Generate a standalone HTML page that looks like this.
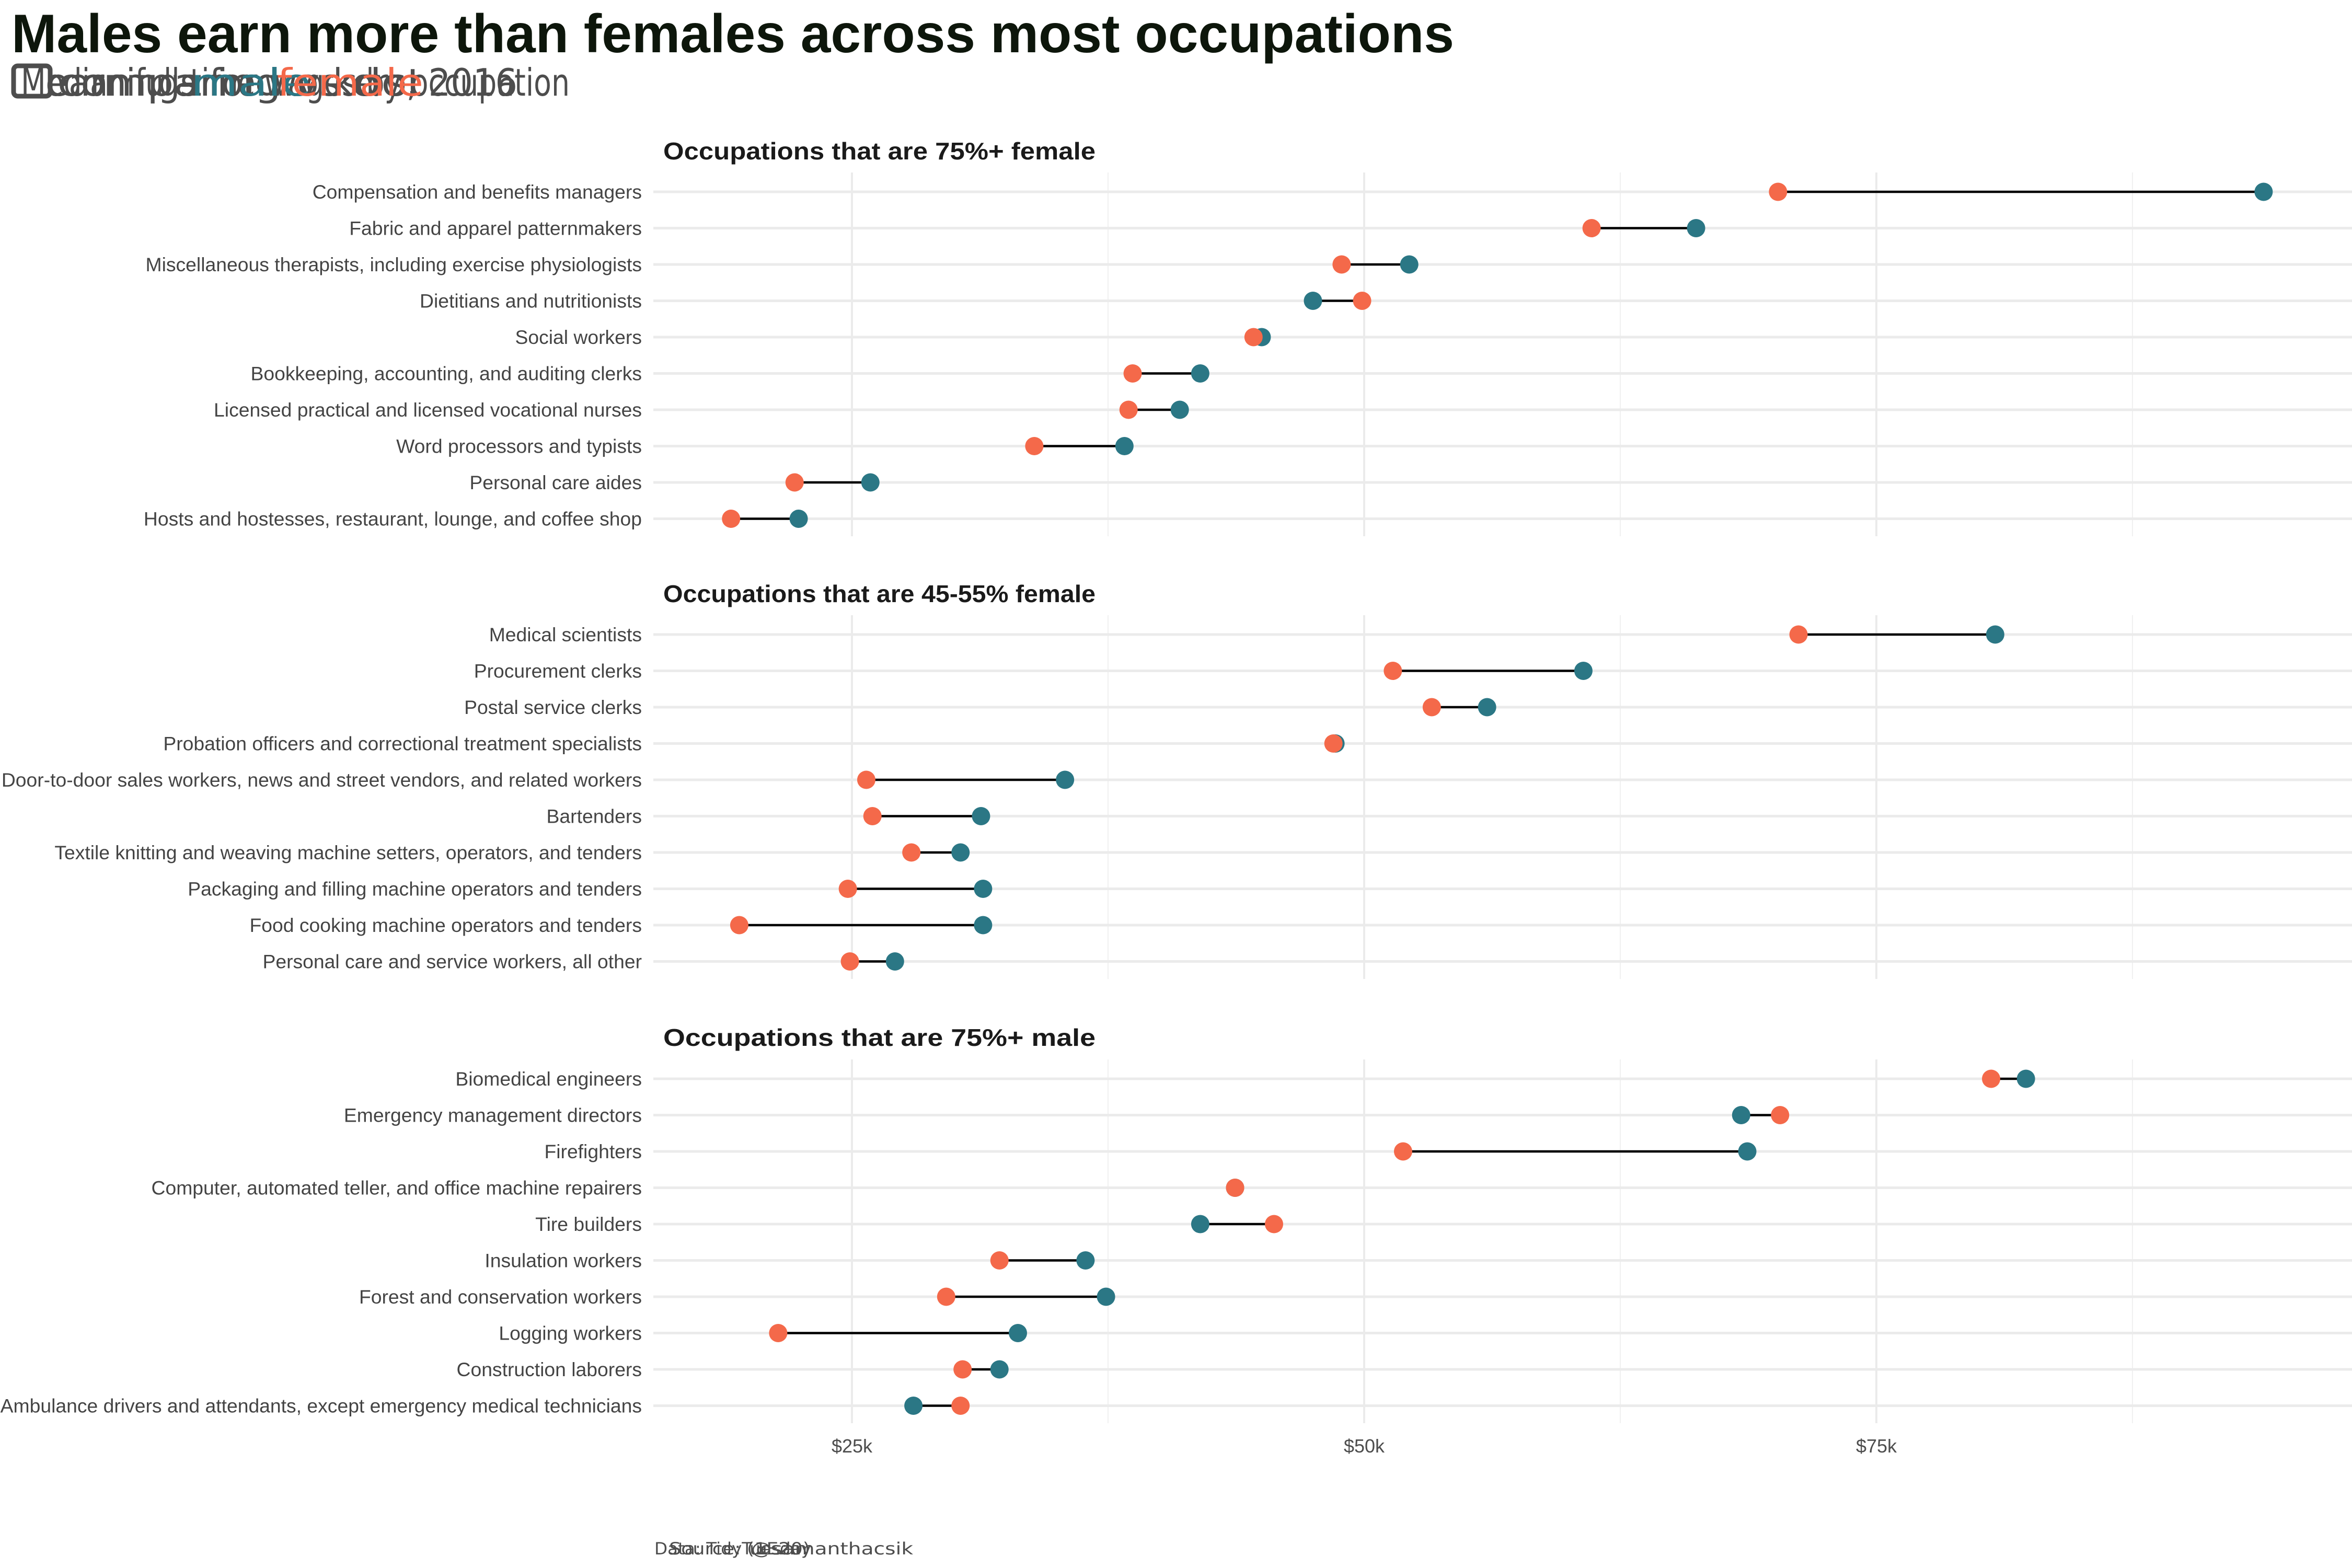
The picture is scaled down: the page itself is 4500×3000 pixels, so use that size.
<!DOCTYPE html>
<html><head><meta charset="utf-8"><style>
html,body{margin:0;padding:0;background:#fff;}
svg{display:block;}
</style></head><body>
<svg id="chart" width="4500" height="3000" viewBox="0 0 4500 3000" xmlns="http://www.w3.org/2000/svg">
<text x="22" y="100" font-family="Liberation Sans, sans-serif" font-weight="bold" font-size="104" fill="#0d160b" textLength="2760" lengthAdjust="spacingAndGlyphs">Males earn more than females across most occupations</text>
<g font-family="DejaVu Sans, sans-serif" font-size="72" fill="#4d4d4d">
<rect x="26" y="126" width="70" height="58" rx="8" fill="none" stroke="#4d4d4d" stroke-width="9"/>
<text x="40" y="183" textLength="1050" lengthAdjust="spacingAndGlyphs">Median full-time wages by occupation</text>
<text x="90" y="183" textLength="900" lengthAdjust="spacingAndGlyphs">earnings for workers, 2016</text>
<text x="110" y="183" textLength="700" lengthAdjust="spacingAndGlyphs">comparing vs dot</text>
<text x="365" y="183" fill="#2b7785" textLength="230" lengthAdjust="spacingAndGlyphs">male</text>
<text x="530" y="183" fill="#f4694a" textLength="280" lengthAdjust="spacingAndGlyphs">female</text>
</g>
<g id="plot"></g>
<g font-family="DejaVu Sans, sans-serif" font-size="32" fill="#4d4d4d">
<text x="1252" y="2974" textLength="300" lengthAdjust="spacingAndGlyphs">Data: TidyTuesday</text>
<text x="1280" y="2974" textLength="270" lengthAdjust="spacingAndGlyphs">Source: (1E20)</text>
<text x="1437" y="2974" textLength="310" lengthAdjust="spacingAndGlyphs">@samanthacsik</text>
</g>
</svg>
<script>
const panelTitles = ["Occupations that are 75%+ female","Occupations that are 45-55% female","Occupations that are 75%+ male"];
const occ1 = ["Compensation and benefits managers","Fabric and apparel patternmakers","Miscellaneous therapists, including exercise physiologists","Dietitians and nutritionists","Social workers","Bookkeeping, accounting, and auditing clerks","Licensed practical and licensed vocational nurses","Word processors and typists","Personal care aides","Hosts and hostesses, restaurant, lounge, and coffee shop"];
const female1 = [70.2,61.1,48.9,49.9,44.6,38.7,38.5,33.9,22.2,19.1];
const male1 = [93.9,66.2,52.2,47.5,45.0,42.0,41.0,38.3,25.9,22.4];
const occ2 = ["Medical scientists","Procurement clerks","Postal service clerks","Probation officers and correctional treatment specialists","Door-to-door sales workers, news and street vendors, and related workers","Bartenders","Textile knitting and weaving machine setters, operators, and tenders","Packaging and filling machine operators and tenders","Food cooking machine operators and tenders","Personal care and service workers, all other"];
const female2 = [71.2,51.4,53.3,48.5,25.7,26.0,27.9,24.8,19.5,24.9];
const male2 = [80.8,60.7,56.0,48.6,35.4,31.3,30.3,31.4,31.4,27.1];
const occ3 = ["Biomedical engineers","Emergency management directors","Firefighters","Computer, automated teller, and office machine repairers","Tire builders","Insulation workers","Forest and conservation workers","Logging workers","Construction laborers","Ambulance drivers and attendants, except emergency medical technicians"];
const female3 = [80.6,70.3,51.9,43.7,45.6,32.2,29.6,21.4,30.4,30.3];
const male3 = [82.3,68.4,68.7,43.7,42.0,36.4,37.4,33.1,32.2,28.0];
const tickValues = [25,50,75];
const tickLabels = ["$25k","$50k","$75k"];
const minorValues = [37.5,62.5,87.5];

const NS="http://www.w3.org/2000/svg";
const plot=document.getElementById('plot');
const PL=1250, PR=4500;
function xs(v){return 1630+(v-25)*39.2;}
function mk(tag,attrs,parent){const e=document.createElementNS(NS,tag);for(const k in attrs)e.setAttribute(k,attrs[k]);(parent||plot).appendChild(e);return e;}
const panels=[{occ:occ1,f:female1,m:male1,top:330,bot:1026,y0:367,title:290},
{occ:occ2,f:female2,m:male2,top:1177,bot:1873,y0:1214,title:1137},
{occ:occ3,f:female3,m:male3,top:2027,bot:2723,y0:2064,title:1986}];
const step=69.5;
panels.forEach((p,pi)=>{
  const g=mk('g',{});
  
  
  const t=mk('text',{x:1269,y:p.title+15,'font-family':'Liberation Sans, sans-serif','font-weight':'bold','font-size':46,fill:'#1a1a1a',textLength:827,lengthAdjust:'spacingAndGlyphs'},g);
  t.textContent=panelTitles[pi];
  
  
  minorValues.forEach(v=>{const l=mk('line',{x1:xs(v),x2:xs(v),y1:p.top,y2:p.bot,stroke:'#f0f0f0','stroke-width':2},g);
    
    });
  tickValues.forEach(v=>{const l=mk('line',{x1:xs(v),x2:xs(v),y1:p.top,y2:p.bot,stroke:'#ebebeb','stroke-width':4},g);
    
    });
  p.occ.forEach((name,i)=>{
    const y=p.y0+i*step;
    const gl=mk('line',{x1:PL,x2:PR,y1:y,y2:y,stroke:'#ebebeb','stroke-width':5},g);
    
    
    const lb=mk('text',{x:1228,y:y+13,'text-anchor':'end','font-family':'Liberation Sans, sans-serif','font-size':37.3,fill:'#444'},g);
    lb.textContent=name;
    
    
    const seg=mk('line',{x1:xs(p.f[i]),x2:xs(p.m[i]),y1:y,y2:y,stroke:'#000','stroke-width':4.5},g);
    
    
    const cm=mk('circle',{cx:xs(p.m[i]),cy:y,r:17.5,fill:'#2b7785'},g);
    
    
    const cf=mk('circle',{cx:xs(p.f[i]),cy:y,r:17.5,fill:'#f4694a'},g);
    
    
  });
});
tickValues.forEach((v,i)=>{
  const t=mk('text',{x:xs(v),y:2779,'text-anchor':'middle','font-family':'Liberation Sans, sans-serif','font-size':36,fill:'#4d4d4d'});
  t.textContent=tickLabels[i];
  
  
});
</script>
</body></html>
